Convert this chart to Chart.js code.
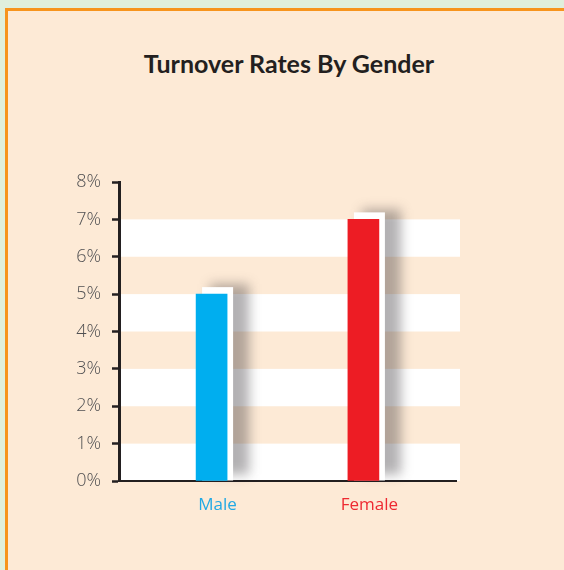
<!DOCTYPE html>
<html>
<head>
<meta charset="utf-8">
<script src="https://cdn.jsdelivr.net/npm/chart.js@4"></script>
<style>
    html, body { margin: 0; padding: 0; }
    body { width: 564px; height: 570px; overflow: hidden; background: #e0efdc; position: relative; }
    .panel {
        position: absolute; left: 5px; top: 8px; width: 600px; height: 600px;
        background: #fdead6; border: 3px solid #f7941d; box-sizing: border-box;
    }
    .title {
        position: absolute; left: 0; top: 48px; width: 578px; text-align: center;
        font-family: Lato, 'Open Sans', sans-serif; font-weight: 700; font-size: 25px;
        line-height: 30px; color: #231f20; margin: 0;
    }
    #chart { position: absolute; left: 0; top: 0; }
</style>
</head>
<body>
<div class="panel"></div>
<h1 class="title">Turnover Rates By Gender</h1>
<canvas id="chart" width="564" height="570"></canvas>
<script>
    const categories = ['Male', 'Female'];
    const turnoverRates = [5, 7];
    const barColors = ['#00aeef', '#ed1c24'];
    const labelColors = ['#22a9e4', '#ee2a32'];
    const yTicks = [0, 1, 2, 3, 4, 5, 6, 7, 8];

    // white stripes on every other interval of the y axis
    const stripes = {
        id: 'stripes',
        beforeDraw(chart) {
            const ctx = chart.ctx;
            const area = chart.chartArea;
            const y = chart.scales.y;
            ctx.save();
            ctx.fillStyle = '#ffffff';
            for (let i = 0; i < yTicks.length - 1; i += 2) {
                const top = y.getPixelForValue(yTicks[i + 1]);
                const bottom = y.getPixelForValue(yTicks[i]);
                ctx.fillRect(area.left, top, area.right - area.left + 4, bottom - top);
            }
            ctx.restore();
        }
    };

    // blurred shadow and white offset card behind each bar
    const barShadow = {
        id: 'barShadow',
        beforeDatasetsDraw(chart) {
            const ctx = chart.ctx;
            chart.getDatasetMeta(0).data.forEach(bar => {
                const p = bar.getProps(['x', 'y', 'base', 'width'], true);
                const left = p.x - p.width / 2;
                ctx.save();
                ctx.filter = 'blur(6px)';
                ctx.fillStyle = 'rgba(45, 40, 45, 0.36)';
                ctx.fillRect(left + 14, p.y - 10, p.width + 8, p.base - p.y + 4);
                ctx.restore();
                ctx.fillStyle = '#ffffff';
                ctx.fillRect(left + 6, p.y - 7, p.width, p.base - p.y + 7);
            });
        }
    };

    new Chart(document.getElementById('chart'), {
        type: 'bar',
        data: {
            datasets: [{
                data: categories.map((c, i) => ({ x: i, y: turnoverRates[i] })),
                backgroundColor: barColors,
                borderWidth: 0,
                barThickness: 31
            }]
        },
        options: {
            responsive: false,
            animation: false,
            layout: { padding: { left: 0, top: 182, right: 108, bottom: 49 } },
            plugins: {
                legend: { display: false },
                tooltip: { enabled: false }
            },
            scales: {
                x: {
                    type: 'linear',
                    min: -0.61,
                    max: 1.61,
                    offset: false,
                    z: 1,
                    afterFit: scale => { scale.height = 40; },
                    grid: { display: false, offset: false },
                    border: { display: true, color: '#231f20', width: 2 },
                    ticks: {
                        stepSize: 1,
                        includeBounds: false,
                        autoSkip: false,
                        maxRotation: 0,
                        padding: 6,
                        labelOffset: 6,
                        callback: v => categories[v] || '',
                        color: c => labelColors[c.tick ? c.tick.value : 0] || '#231f20',
                        font: { family: "'Open Sans', sans-serif", size: 17 }
                    }
                },
                y: {
                    min: 0,
                    max: 8,
                    z: 1,
                    afterFit: scale => { scale.width = 119; },
                    grid: {
                        drawOnChartArea: false,
                        drawTicks: true,
                        tickLength: 7,
                        tickWidth: 2.5,
                        tickColor: '#231f20'
                    },
                    border: { display: true, color: '#231f20', width: 3 },
                    afterBuildTicks: scale => { scale.ticks = yTicks.map(v => ({ value: v })); },
                    ticks: {
                        padding: 11,
                        callback: v => v + '%',
                        color: '#505052',
                        font: { family: "'Open Sans', sans-serif", size: 18, weight: 300 }
                    }
                }
            }
        },
        plugins: [stripes, barShadow]
    });
</script>
</body>
</html>
